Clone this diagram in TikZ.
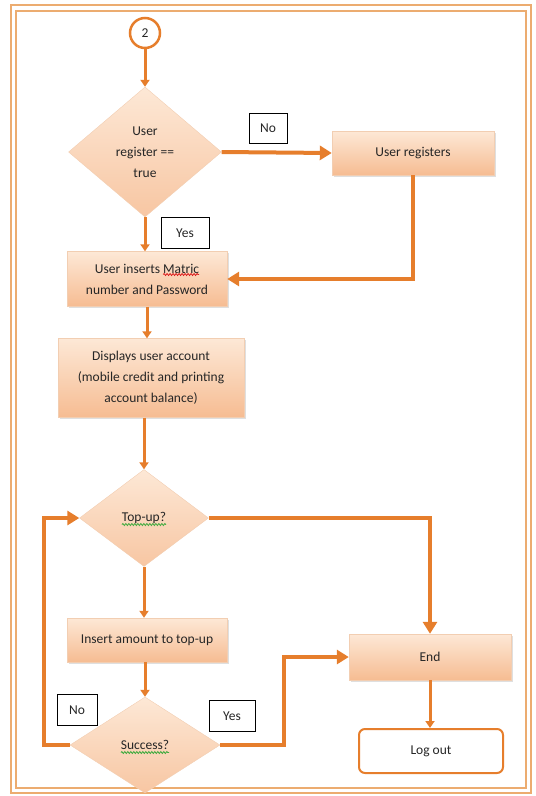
\documentclass[tikz,border=0pt]{standalone}
\usepackage{fontspec}
\setmainfont{Carlito}
\usetikzlibrary{shapes.geometric,arrows.meta,shadows,decorations.pathmorphing}
\definecolor{arrowc}{RGB}{230,126,44}
\definecolor{framec}{RGB}{236,172,112}
\definecolor{boxtop}{RGB}{253,232,214}
\definecolor{boxbot}{RGB}{246,188,146}
\definecolor{boxline}{RGB}{242,206,178}
\definecolor{spellred}{RGB}{220,30,30}
\definecolor{spellgreen}{RGB}{60,170,60}
\newcommand{\flowfont}{\fontsize{13.5}{21}\selectfont}
\newlength{\wline}
\newlength{\wword}
\newlength{\wtop}
\newlength{\wsucc}
\tikzset{
  flowbox/.style={rectangle, draw=boxline, top color=boxtop, bottom color=boxbot,
    align=center, inner sep=0pt,
    drop shadow={opacity=0.25, shadow xshift=1.5pt, shadow yshift=-1.5pt}},
  decision/.style={diamond, draw=boxline, top color=boxtop, bottom color=boxbot!85!white,
    align=center, inner sep=0pt},
  lbl/.style={rectangle, draw=black, fill=white, line width=0.8pt, inner sep=0pt},
  flow/.style={draw=arrowc, line width=3pt, -{Triangle[width=9pt,length=7pt]}},
  bigflow/.style={draw=arrowc, line width=4pt, -{Triangle[width=14pt,length=12pt]}},
  squiggle/.style={line width=0.8pt, decorate,
    decoration={snake, amplitude=1pt, segment length=3pt}},
}
\begin{document}
\settowidth{\wline}{\flowfont User inserts Matric}
\settowidth{\wword}{\flowfont Matric}
\settowidth{\wtop}{\flowfont Top-up?}
\settowidth{\wsucc}{\flowfont Success?}
\begin{tikzpicture}[x=1pt, y=-1pt,
  every node/.style={font=\flowfont, text=black!85}]
\useasboundingbox (0,0) rectangle (536,796);
\draw[framec, line width=1.2pt] (11,5) rectangle (531,793);
\draw[framec, line width=1.2pt] (16,11) rectangle (526,788);

\node[circle, draw=arrowc, line width=2.5pt, fill=white, minimum size=30pt, inner sep=0pt] (start) at (145,33) {2};
\node[decision, minimum width=153pt, minimum height=130pt] (reg) at (145,152) {User\\register ==\\true};
\node[flowbox, minimum width=162pt, minimum height=44pt] (regs) at (413,153) {User registers};
\node[lbl, minimum width=38pt, minimum height=30pt] (no1) at (268,128) {No};
\node[lbl, minimum width=48pt, minimum height=31pt] (yes1) at (185,233) {Yes};
\node[flowbox, minimum width=160pt, minimum height=55pt] (login) at (147,279) {User inserts Matric\\number and Password};
\node[flowbox, minimum width=186pt, minimum height=79pt] (disp) at (151,378) {Displays user account\\(mobile credit and printing\\account balance)};
\node[decision, minimum width=129pt, minimum height=97pt] (topup) at (144,518) {Top-up?};
\node[flowbox, minimum width=160pt, minimum height=44pt] (amount) at (147,640) {Insert amount to top-up};
\node[decision, minimum width=150pt, minimum height=96pt] (success) at (145,745) {Success?};
\node[lbl, minimum width=40pt, minimum height=31pt] (no2) at (77,710) {No};
\node[lbl, minimum width=46pt, minimum height=31pt] (yes2) at (232,716) {Yes};
\node[flowbox, minimum width=162pt, minimum height=46pt] (end) at (430,657) {End};
\node[rectangle, rounded corners=6pt, draw=arrowc, line width=2pt, fill=white, minimum width=144pt, minimum height=44pt] (logout) at (431,751) {Log out};

\draw[spellred, squiggle] ({147pt+0.5\wline-\wword},274.5) -- ({147pt+0.5\wline},274.5);
\draw[spellgreen, squiggle] ([yshift=-3pt]topup.text) -- ([yshift=-3pt, xshift=\wtop]topup.text);
\draw[spellgreen, squiggle] ([yshift=-3pt]success.text) -- ([yshift=-3pt, xshift=\wsucc]success.text);

\draw[flow] (start) -- (reg);
\draw[bigflow] (reg.east) -- (regs.west);
\draw[flow] (reg.south) -- (reg.south |- login.north);
\draw[bigflow] (regs.south) |- (login.east);
\draw[flow] (login.south) -- (login.south |- disp.north);
\draw[flow] (disp.south -| topup.north) -- (topup.north);
\draw[bigflow] (topup.east) -| (end.north);
\draw[flow] (topup.south) -- (topup.south |- amount.north);
\draw[flow] (amount.south -| success.north) -- (success.north);
\draw[bigflow] (success.west) -- ++(-26,0) |- (topup.west);
\draw[bigflow] (success.east) -- ++(64,0) |- (end.west);
\draw[flow] (end.south) -- (end.south |- logout.north);
\end{tikzpicture}
\end{document}
